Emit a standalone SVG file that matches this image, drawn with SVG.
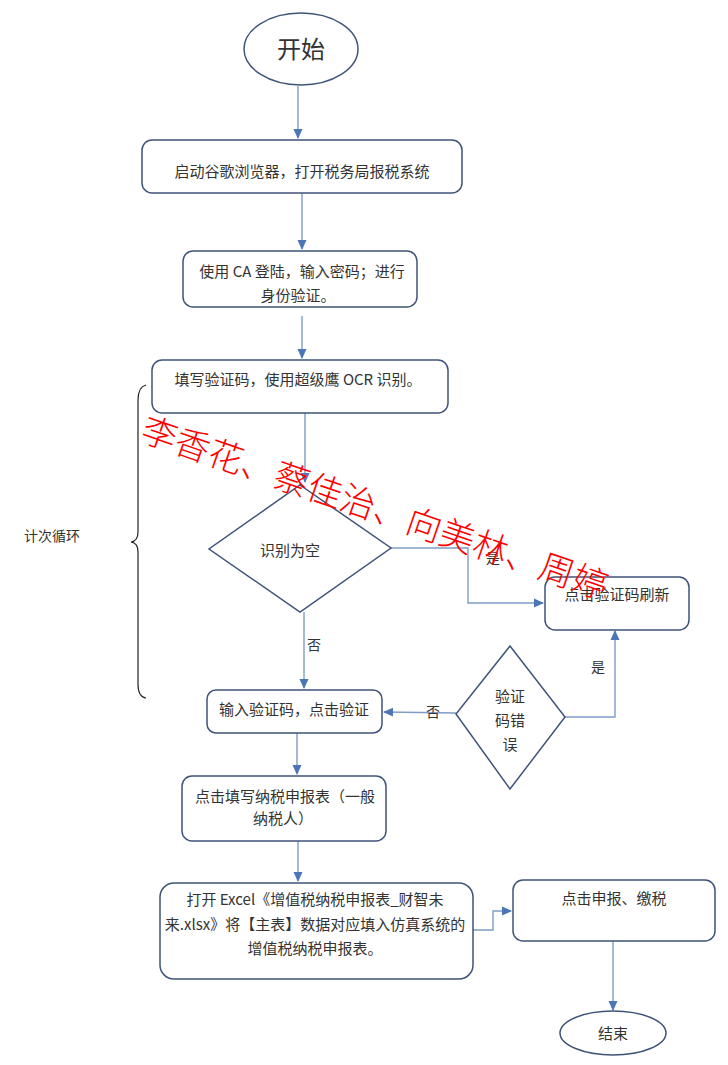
<svg xmlns="http://www.w3.org/2000/svg" width="728" height="1065" viewBox="0 0 728 1065">
<defs>
<marker id="arr" markerWidth="10" markerHeight="10" refX="9" refY="5" orient="auto" markerUnits="userSpaceOnUse">
<path d="M0,0.5 L10,5 L0,9.5 Z" fill="#4a76b8"/>
</marker>
<style>
.node{fill:#fff;stroke:#3f5478;stroke-width:1.5}
.t{font-family:"Noto Sans CJK SC","Noto Sans",sans-serif;font-size:15px;fill:#333;text-anchor:middle}
.c{fill:none;stroke:#7f9cc8;stroke-width:1.4}
.ca{fill:none;stroke:#7f9cc8;stroke-width:1.4;marker-end:url(#arr)}
.lbl{font-family:"Noto Sans CJK SC","Noto Sans",sans-serif;font-size:14px;fill:#333;text-anchor:middle}
</style>
</defs>
<rect width="728" height="1065" fill="#fff"/>

<g id="connectors">
<line class="ca" x1="298" y1="86" x2="298" y2="138"/>
<line class="ca" x1="302" y1="193" x2="302" y2="249"/>
<line class="ca" x1="302" y1="316" x2="302" y2="358"/>
<line class="ca" x1="305" y1="413" x2="305" y2="482"/>
<polyline class="ca" points="391,548 468,548 468,603 543,603"/>
<text class="lbl" x="493" y="563">是</text>
<line class="ca" x1="304" y1="612" x2="304" y2="688"/>
<text class="lbl" x="314" y="650">否</text>
<line class="ca" x1="456" y1="713" x2="384" y2="712"/>
<text class="lbl" x="433" y="717">否</text>
<polyline class="ca" points="565,717 615,717 615,631"/>
<text class="lbl" x="598" y="672">是</text>
<line class="ca" x1="297" y1="733" x2="297" y2="774"/>
<line class="ca" x1="298" y1="841" x2="298" y2="881"/>
<polyline class="ca" points="473,930 493,930 493,911 511,911"/>
<line class="ca" x1="613" y1="941" x2="613" y2="1010"/>
</g>

<g id="start">
<ellipse class="node" cx="301" cy="49" rx="57" ry="36"/>
<text class="t" x="301" y="58" style="font-size:24px">开始</text>
</g>

<g id="n1">
<rect class="node" x="142" y="140" width="320" height="53" rx="10"/>
<text class="t" x="302" y="177">启动谷歌浏览器，打开税务局报税系统</text>
</g>

<g id="n2">
<rect class="node" x="183" y="251" width="234" height="56" rx="10"/>
<text class="t" x="302" y="277">使用 CA 登陆，输入密码；进行</text>
<text class="t" x="298" y="301">身份验证。</text>
</g>

<g id="n3">
<rect class="node" x="152" y="360" width="296" height="53" rx="10"/>
<text class="t" x="298" y="385">填写验证码，使用超级鹰 OCR 识别。</text>
</g>

<g id="d1">
<polygon class="node" points="300,485 391,548 300,612 209,549"/>
<text class="t" x="290" y="556">识别为空</text>
</g>

<g id="n4">
<rect class="node" x="545" y="577" width="144" height="53" rx="10"/>
<text class="t" x="617" y="600">点击验证码刷新</text>
</g>

<g id="n5">
<rect class="node" x="207" y="690" width="175" height="43" rx="9"/>
<text class="t" x="294" y="715">输入验证码，点击验证</text>
</g>

<g id="d2">
<polygon class="node" points="510,646 565,717 510,789 456,714"/>
<text class="t" x="510" y="702">验证</text>
<text class="t" x="510" y="726">码错</text>
<text class="t" x="510" y="750">误</text>
</g>

<g id="n6">
<rect class="node" x="182" y="776" width="204" height="65" rx="10"/>
<text class="t" x="285" y="802">点击填写纳税申报表（一般</text>
<text class="t" x="283" y="824">纳税人）</text>
</g>

<g id="n7">
<rect class="node" x="160" y="883" width="313" height="96" rx="14"/>
<text class="t" x="315" y="905">打开 Excel《增值税纳税申报表_财智未</text>
<text class="t" x="315" y="930">来.xlsx》将【主表】数据对应填入仿真系统的</text>
<text class="t" x="315" y="954">增值税纳税申报表。</text>
</g>

<g id="n8">
<rect class="node" x="513" y="880" width="202" height="61" rx="10"/>
<text class="t" x="614" y="904">点击申报、缴税</text>
</g>

<g id="end">
<ellipse class="node" cx="613" cy="1033" rx="53" ry="22"/>
<text class="t" x="613" y="1039" style="font-size:15px">结束</text>
</g>

<g id="loop">
<path d="M146,385 Q138,387 138,400 L138,532 Q138,541 131,542 Q138,543 138,552 L138,684 Q138,697 146,698" fill="none" stroke="#222" stroke-width="1.2"/>
<text class="t" x="52" y="541" style="font-size:14px">计次循环</text>
</g>

<g id="watermark">
<text x="139" y="440" transform="rotate(19 139 440)" style="font-family:'Noto Sans CJK SC',sans-serif;font-size:35px;fill:#ff0000;font-weight:300">李香花、蔡佳治、向美林、周婷</text>
</g>
</svg>
